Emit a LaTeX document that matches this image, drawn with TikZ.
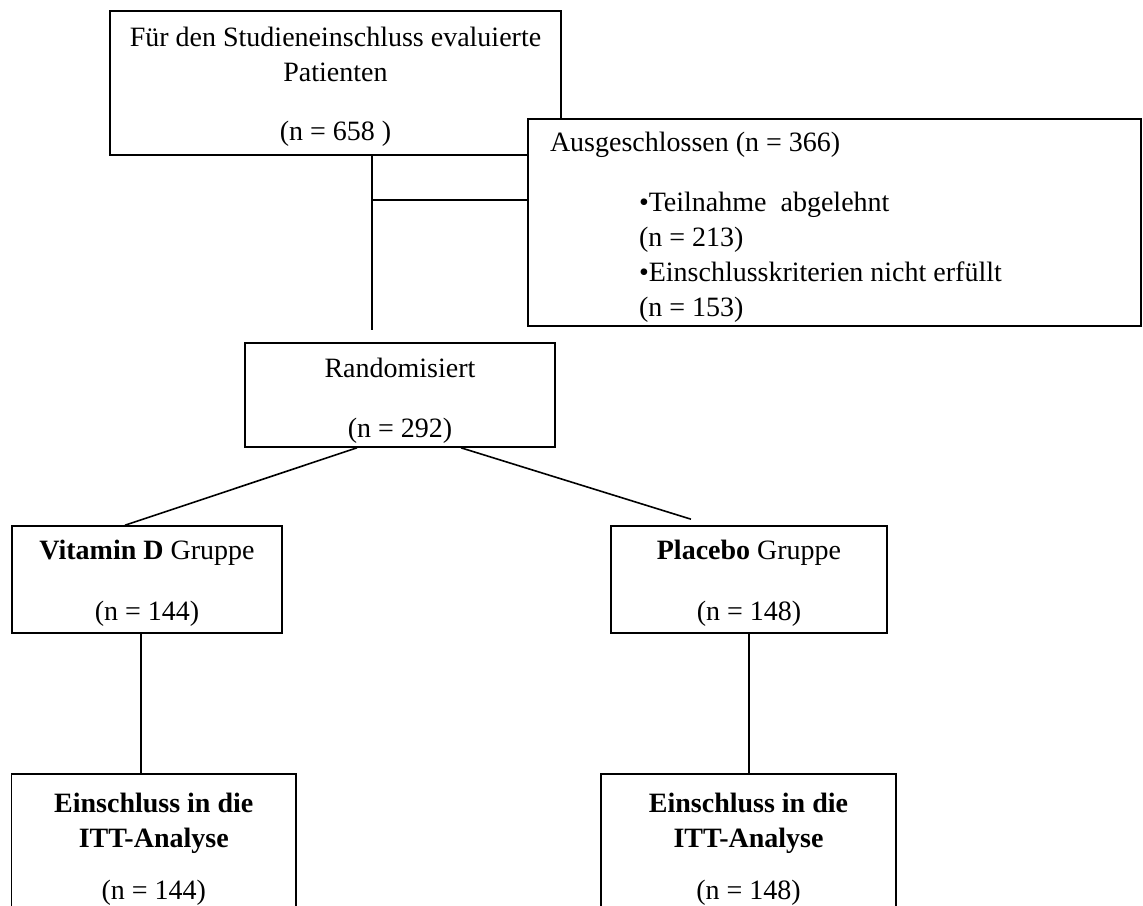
\documentclass[tikz,border=0pt]{standalone}
\usepackage{fontspec}
\setmainfont{Liberation Serif}
\usetikzlibrary{calc}

\begin{document}
\begin{tikzpicture}[x=1pt,y=-1pt,
        box/.style={draw,line width=1.6pt,fill=white,align=center,inner sep=0pt,font=\fontsize{28}{35}\selectfont},
        link/.style={line width=1.6pt}]
        \clip (0,0) rectangle (1143,905);
        \node[box,minimum width=451pt,minimum height=144pt] (eval) at (335.5,83) {\rule{0pt}{26pt}Für den Studieneinschluss evaluierte\\Patienten\\[24pt](n = 658 )};
        \node[box,minimum width=613pt,minimum height=207pt,text width=569pt,inner xsep=22pt,align=flush left] (excl) at (834.5,222.5) {\rule{0pt}{29pt}Ausgeschlossen (n = 366)\\[25pt]\hspace*{89pt}•Teilnahme\ \ abgelehnt\\\hspace*{89pt}(n = 213)\\\hspace*{89pt}•Einschlusskriterien nicht erfüllt\\\hspace*{89pt}(n = 153)};
        \node[box,minimum width=310pt,minimum height=104pt] (rand) at (400,395) {\rule{0pt}{31pt}Randomisiert\\[25pt](n = 292)};
        \node[box,minimum width=270pt,minimum height=107pt] (vit) at (147,579.5) {\rule{0pt}{27pt}\textbf{Vitamin D} Gruppe\\[26pt](n = 144)};
        \node[box,minimum width=276pt,minimum height=107pt] (plac) at (749,579.5) {\rule{0pt}{27pt}\textbf{Placebo} Gruppe\\[26pt](n = 148)};
        \node[box,minimum width=284.5pt,minimum height=140pt] (ittA) at (153.75,844) {\rule{0pt}{29pt}\textbf{Einschluss in die}\\\textbf{ITT-Analyse}\\[17pt](n = 144)};
        \node[box,minimum width=295pt,minimum height=140pt] (ittB) at (748.5,844) {\rule{0pt}{29pt}\textbf{Einschluss in die}\\\textbf{ITT-Analyse}\\[17pt](n = 148)};
        \coordinate (split) at (372,200);
        \draw[link] (eval.south -| split) -- ($(rand.north -| split)+(0,-12)$);
        \draw[link] (split) -- (split -| excl.west);
        \draw[link] ($(rand.south)+(-43,0)$) -- ($(vit.north)+(-22,0)$);
        \draw[link] ($(rand.south)+(61,0)$) -- ($(plac.north)+(-58,-6)$);
        \draw[link] ($(vit.south)+(-6,0)$) -- ($(ittA.north)+(-12.75,0)$);
        \draw[link] (plac.south) -- (plac.south |- ittB.north);
\end{tikzpicture}
\end{document}
